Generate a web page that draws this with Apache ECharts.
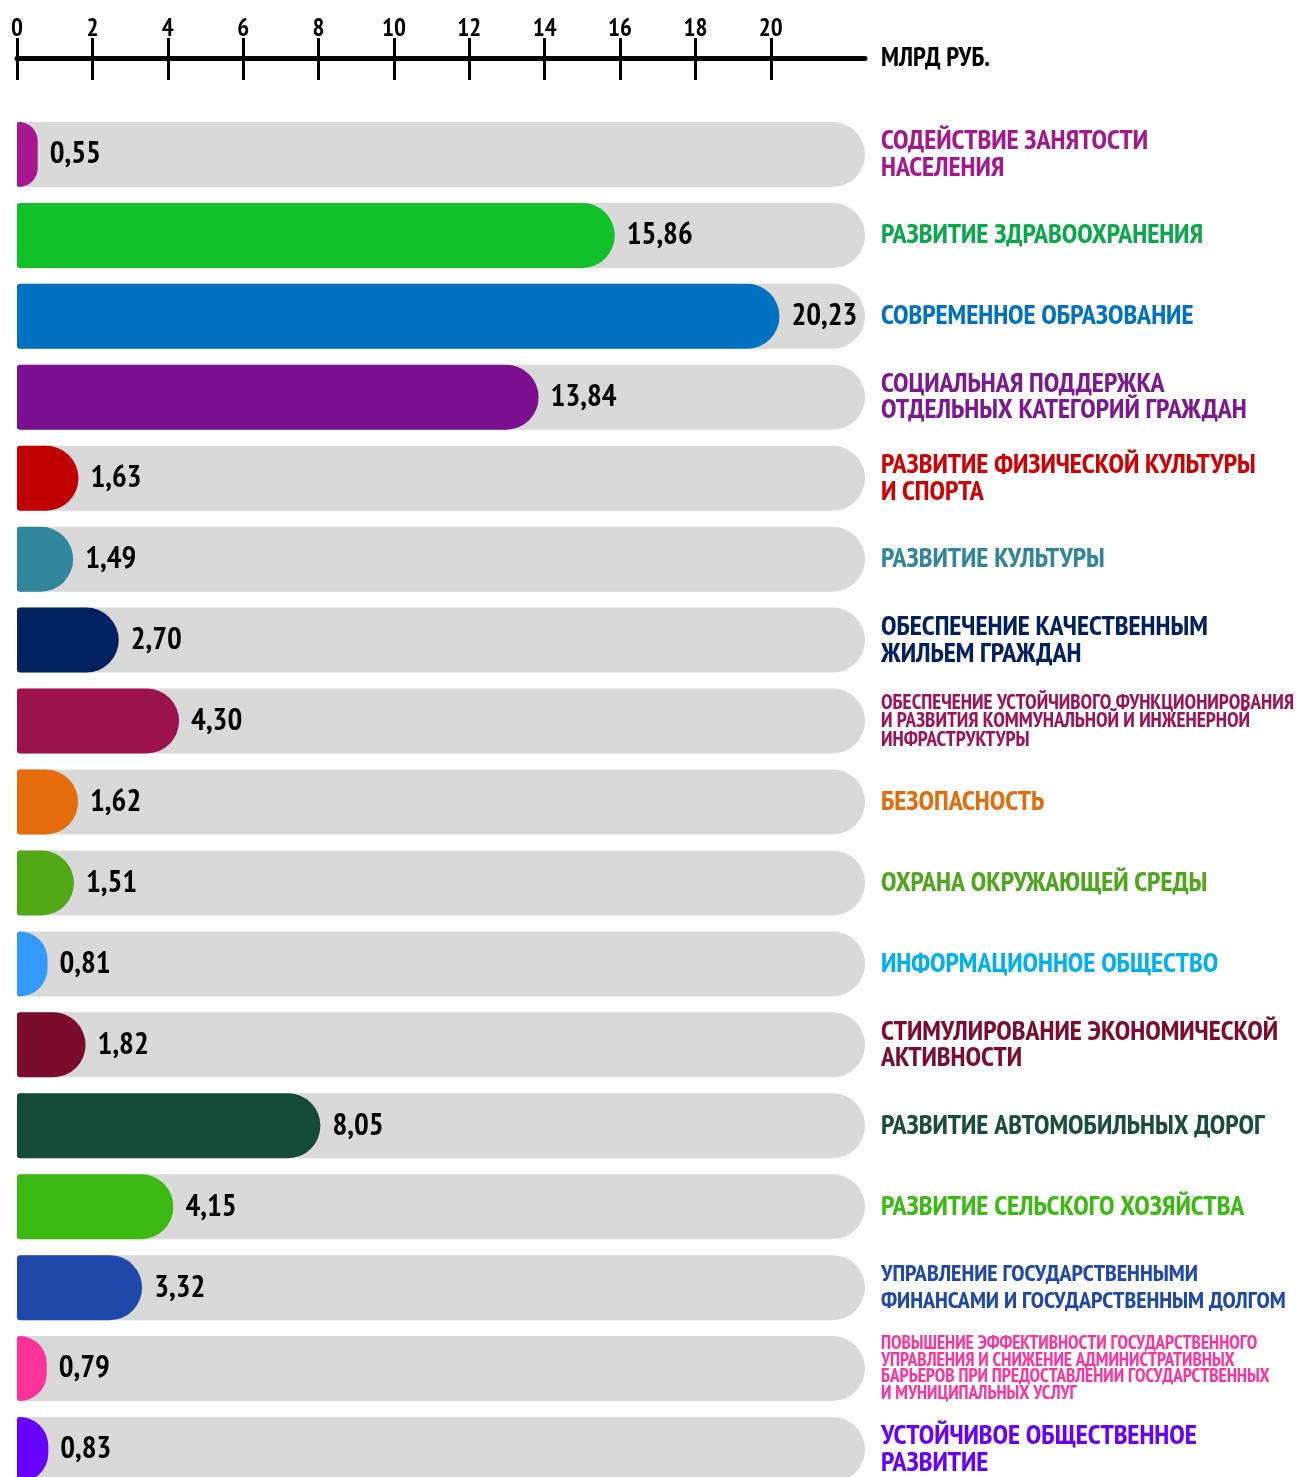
<!DOCTYPE html>
<html><head><meta charset="utf-8">
<script src="https://cdn.jsdelivr.net/npm/echarts@6/dist/echarts.min.js"></script>
<style>html,body{margin:0;padding:0;background:#fff}#c{width:1306px;height:1477px}</style>
</head><body><div id="c"></div>
<script>
const categories = [
  'СОДЕЙСТВИЕ ЗАНЯТОСТИ\nНАСЕЛЕНИЯ',
  'РАЗВИТИЕ ЗДРАВООХРАНЕНИЯ',
  'СОВРЕМЕННОЕ ОБРАЗОВАНИЕ',
  'СОЦИАЛЬНАЯ ПОДДЕРЖКА\nОТДЕЛЬНЫХ КАТЕГОРИЙ ГРАЖДАН',
  'РАЗВИТИЕ ФИЗИЧЕСКОЙ КУЛЬТУРЫ\nИ СПОРТА',
  'РАЗВИТИЕ КУЛЬТУРЫ',
  'ОБЕСПЕЧЕНИЕ КАЧЕСТВЕННЫМ\nЖИЛЬЕМ ГРАЖДАН',
  'ОБЕСПЕЧЕНИЕ УСТОЙЧИВОГО ФУНКЦИОНИРОВАНИЯ\nИ РАЗВИТИЯ КОММУНАЛЬНОЙ И ИНЖЕНЕРНОЙ\nИНФРАСТРУКТУРЫ',
  'БЕЗОПАСНОСТЬ',
  'ОХРАНА ОКРУЖАЮЩЕЙ СРЕДЫ',
  'ИНФОРМАЦИОННОЕ ОБЩЕСТВО',
  'СТИМУЛИРОВАНИЕ ЭКОНОМИЧЕСКОЙ\nАКТИВНОСТИ',
  'РАЗВИТИЕ АВТОМОБИЛЬНЫХ ДОРОГ',
  'РАЗВИТИЕ СЕЛЬСКОГО ХОЗЯЙСТВА',
  'УПРАВЛЕНИЕ ГОСУДАРСТВЕННЫМИ\nФИНАНСАМИ И ГОСУДАРСТВЕННЫМ ДОЛГОМ',
  'ПОВЫШЕНИЕ ЭФФЕКТИВНОСТИ ГОСУДАРСТВЕННОГО\nУПРАВЛЕНИЯ И СНИЖЕНИЕ АДМИНИСТРАТИВНЫХ\nБАРЬЕРОВ ПРИ ПРЕДОСТАВЛЕНИИ ГОСУДАРСТВЕННЫХ\nИ МУНИЦИПАЛЬНЫХ УСЛУГ',
  'УСТОЙЧИВОЕ ОБЩЕСТВЕННОЕ\nРАЗВИТИЕ'
];
const values = [0.55, 15.86, 20.23, 13.84, 1.63, 1.49, 2.70, 4.30, 1.62, 1.51, 0.81, 1.82, 8.05, 4.15, 3.32, 0.79, 0.83];
const barColors = ['#a8178f','#12c12a','#0070c0','#7b0f8f','#c00000','#31869b','#002060','#9c134c','#e46c0a','#52a815','#3399ff','#7b0c2e','#144b38','#3cb912','#1f48aa','#ff3399','#6600ff'];
const labelColors = ['#a3198c','#0aa84a','#0070c0','#7b1a8f','#d00000','#31869b','#002060','#9c1455','#e46c0a','#4ea71a','#00b0f0','#7b0c2e','#1a4d3a','#3cb912','#1f48aa','#ff3399','#6600ff'];
const labelSizes = [28, 28, 28, 28, 28, 28, 28, 21, 28, 28, 28, 28, 28, 28, 24, 19, 28];
const labelLineHeights = [27, 27, 27, 26, 27, 27, 27, 18.5, 27, 27, 27, 26, 27, 27, 27, 16.5, 27];
const tickValues = [0, 2, 4, 6, 8, 10, 12, 14, 16, 18, 20];
const axisMax = 22.5;

const FONT = "'PT Sans Narrow','Open Sans Condensed','Roboto Condensed','DejaVu Sans Condensed',sans-serif";
const rich = {};
categories.forEach((c, i) => {
  rich['c' + i] = { color: labelColors[i], fontSize: labelSizes[i], lineHeight: labelLineHeights[i], fontWeight: 'bold', fontFamily: FONT };
});

const chart = echarts.init(document.getElementById('c'), null, { renderer: 'canvas' });
chart.setOption({
  animation: false,
  backgroundColor: '#fff',
  grid: { left: 17, top: 114, width: 848, height: 1376, containLabel: false, outerBoundsMode: 'none' },
  xAxis: [{
    type: 'value', min: 0, max: axisMax, position: 'top', offset: 56,
    axisLine: { show: true, lineStyle: { color: '#000', width: 5 } },
    axisTick: { show: true, customValues: tickValues, length: 20, lineStyle: { color: '#000', width: 3 } },
    axisLabel: { show: true, customValues: tickValues, margin: 17, color: '#000', fontSize: 25, fontWeight: 'bold', fontFamily: FONT },
    splitLine: { show: false },
    name: 'МЛРД РУБ.', nameLocation: 'end', nameGap: 16,
    nameTextStyle: { color: '#000', fontSize: 27, fontWeight: 'bold', fontFamily: FONT, verticalAlign: 'middle' }
  }, {
    type: 'value', min: 0, max: axisMax, position: 'top', offset: 56,
    axisLine: { show: false },
    axisTick: { show: true, inside: true, customValues: tickValues, length: 22, lineStyle: { color: '#000', width: 3 } },
    axisLabel: { show: false },
    splitLine: { show: false }
  }],
  yAxis: {
    type: 'category', data: categories, inverse: true, position: 'right',
    axisLine: { show: false }, axisTick: { show: false }, splitLine: { show: false },
    axisLabel: {
      margin: 16, align: 'left',
      formatter: (v, i) => v.split('\n').map(l => '{c' + i + '|' + l + '}').join('\n'),
      rich: rich
    }
  },
  series: [{
    type: 'bar', xAxisIndex: 0,
    data: values.map((v, i) => ({ value: v, itemStyle: { color: barColors[i] } })),
    barWidth: 65,
    showBackground: true,
    backgroundStyle: { color: '#d9d9d9', borderRadius: [2, 33, 33, 2] },
    itemStyle: { borderRadius: [3, 33, 33, 3] },
    label: {
      show: true, position: 'right', distance: 12,
      formatter: p => p.value.toFixed(2).replace('.', ','),
      color: '#000', fontSize: 31, fontWeight: 'bold', fontFamily: FONT
    }
  }]
});
</script></body></html>
